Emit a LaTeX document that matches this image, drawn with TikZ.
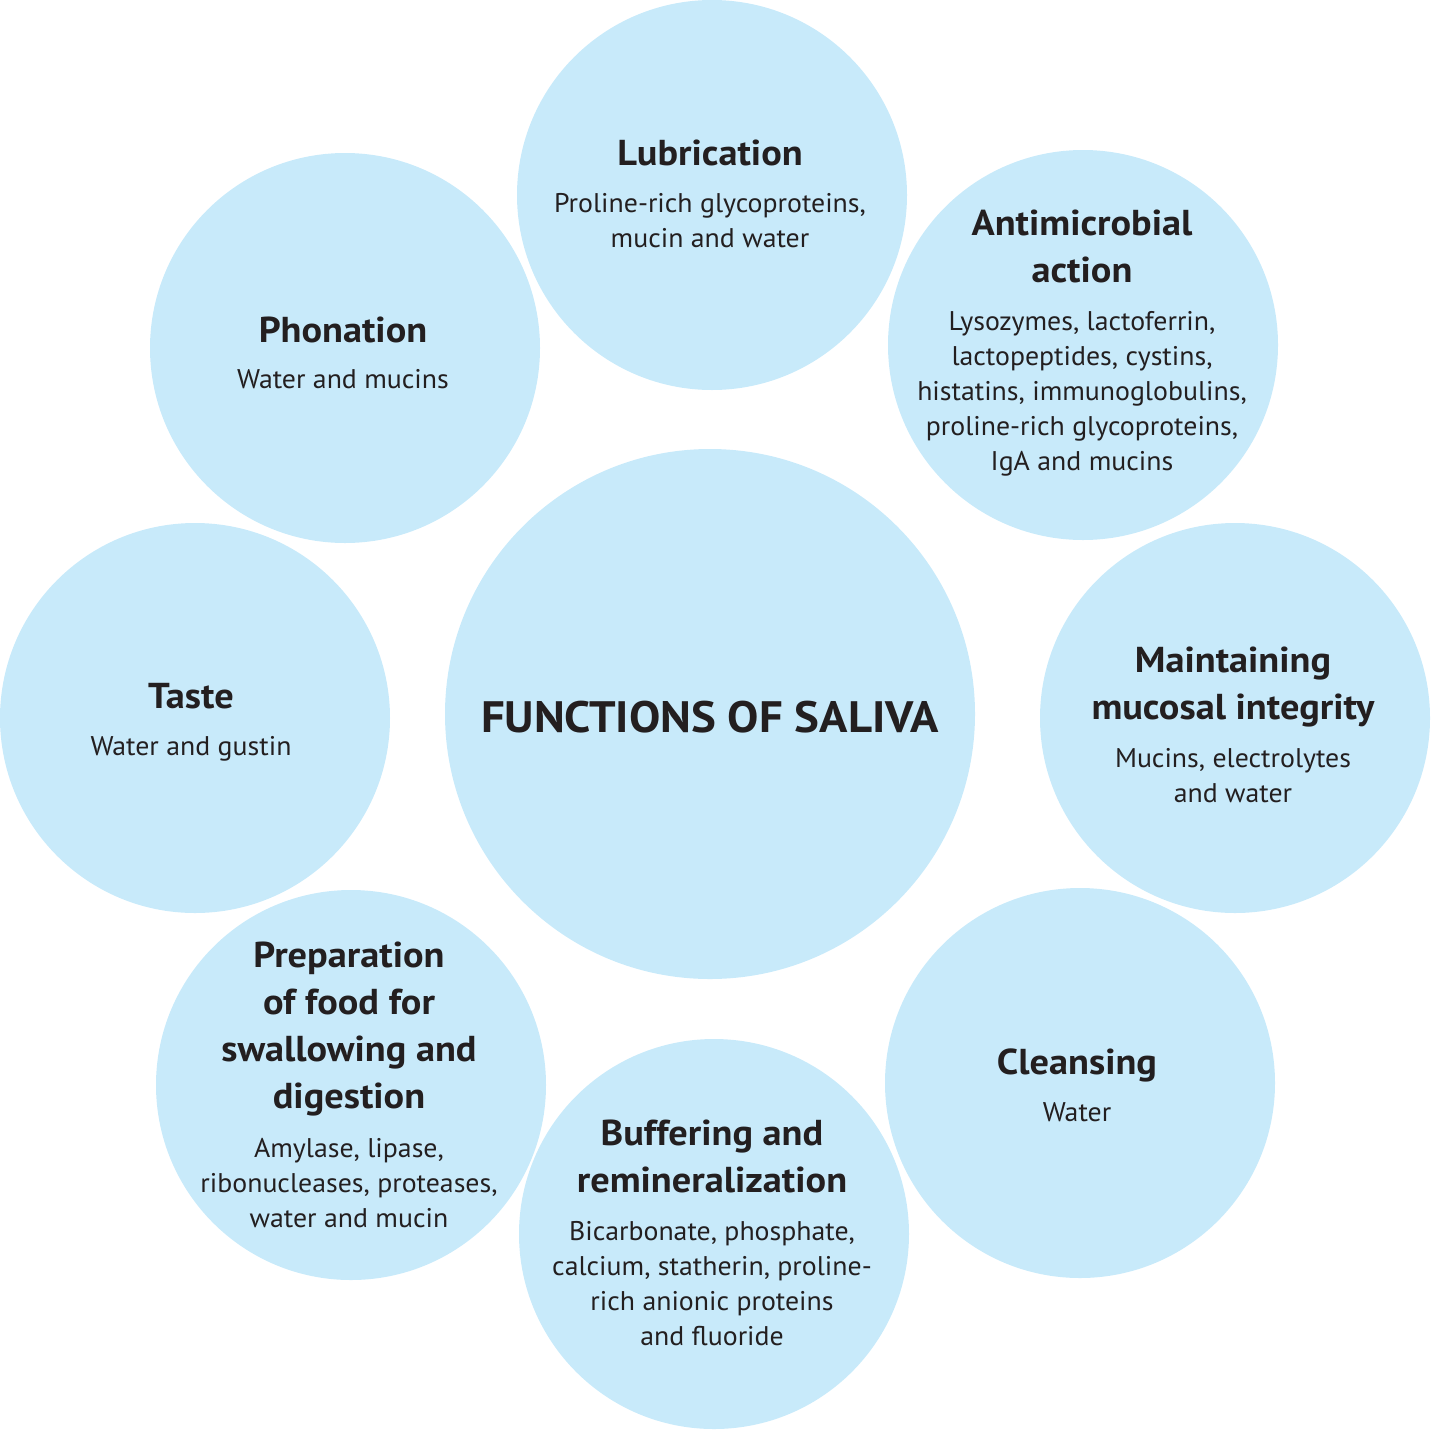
\documentclass[tikz,border=0pt]{standalone}
\usepackage{fontspec}
\setmainfont{PT Sans}[UprightFeatures={FakeStretch=1.03},BoldFeatures={FakeStretch=1.065}]
\definecolor{bubble}{HTML}{C8EAFA}
\definecolor{ink}{HTML}{231F20}
\newcommand\myttlfont{\bfseries\fontsize{36}{47}\selectfont}
\newcommand\mybodyfont{\fontsize{27}{35}\selectfont}
\newcommand\mybigfont{\bfseries\fontsize{44}{52}\selectfont}
\newcommand\mylines[1]{\begin{tabular}[t]{@{}c@{}}#1\end{tabular}}
\begin{document}
\begin{tikzpicture}[x=1pt,y=-1pt,
  bub/.style={circle, fill=bubble, draw=none, inner sep=0pt, minimum size=#1},
  ttl/.style={anchor=base, inner sep=0pt, text=ink, font=\myttlfont},
  bdy/.style={anchor=base, inner sep=0pt, text=ink, font=\mybodyfont},
  big/.style={anchor=base, inner sep=0pt, text=ink, font=\mybigfont}]
\useasboundingbox (0,0) rectangle (1431,1430);
% circles
\node[bub=530pt] (cmain)  at (710,714) {};
\node[bub=390pt] (club)   at (712,195) {};
\node[bub=390pt] (canti)  at (1083,345) {};
\node[bub=390pt] (cmaint) at (1235,718) {};
\node[bub=390pt] (cclean) at (1080,1083) {};
\node[bub=390pt] (cbuff)  at (714,1234) {};
\node[bub=390pt] (cprep)  at (351,1085) {};
\node[bub=390pt] (ctaste) at (195,718) {};
\node[bub=390pt] (cphon)  at (345,348) {};
% central title
\node[big] (tmain) at (710,732) {FUNCTIONS OF SALIVA};
% Lubrication
\node[ttl] (tlub) at (710,165) {\mylines{Lubrication}};
\node[bdy] (blub) at (710,212) {\mylines{Proline-rich glycoproteins,\\mucin and water}};
% Antimicrobial
\node[ttl] (tanti) at (1082,235) {\mylines{Antimicrobial\\action}};
\node[bdy] (banti) at (1082,330) {\mylines{Lysozymes, lactoferrin,\\lactopeptides, cystins,\\histatins, immunoglobulins,\\proline-rich glycoproteins,\\IgA and mucins}};
% Maintaining
\node[ttl] (tmaint) at (1233,672) {\mylines{Maintaining\\mucosal integrity}};
\node[bdy] (bmaint) at (1233,767) {\mylines{Mucins, electrolytes\\and water}};
% Cleansing
\node[ttl] (tclean) at (1077,1074) {\mylines{Cleansing}};
\node[bdy] (bclean) at (1077,1121) {\mylines{Water}};
% Buffering
\node[ttl] (tbuff) at (712,1145) {\mylines{Buffering and\\remineralization}};
\node[bdy] (bbuff) at (712,1240) {\mylines{Bicarbonate, phosphate,\\calcium, statherin, proline-\\rich anionic proteins\\and fluoride}};
% Preparation
\node[ttl] (tprep) at (349,967) {\mylines{Preparation\\of food for\\swallowing and\\digestion}};
\node[bdy] (bprep) at (349,1157) {\mylines{Amylase, lipase,\\ribonucleases, proteases,\\water and mucin}};
% Taste
\node[ttl] (ttaste) at (191,708) {\mylines{Taste}};
\node[bdy] (btaste) at (191,755) {\mylines{Water and gustin}};
% Phonation
\node[ttl] (tphon) at (343,342) {\mylines{Phonation}};
\node[bdy] (bphon) at (343,388) {\mylines{Water and mucins}};
\end{tikzpicture}
\end{document}
